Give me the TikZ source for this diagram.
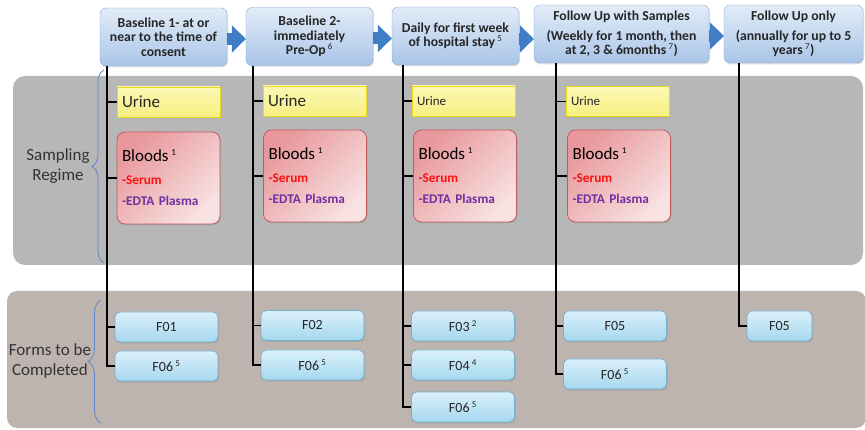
\documentclass[tikz,border=0pt]{standalone}
\usepackage{fontspec}
\setmainfont{Carlito}
\usetikzlibrary{arrows.meta,decorations.pathreplacing,shadows}

\definecolor{hdrtop}{HTML}{E2ECF8}
\definecolor{hdrbot}{HTML}{A9C5E8}
\definecolor{hdrline}{HTML}{8FAAD0}
\definecolor{arrowblue}{HTML}{3F7DC6}
\definecolor{sampbg}{HTML}{B7B7B7}
\definecolor{formbg}{HTML}{BEB4AF}
\definecolor{urinetop}{HTML}{FCF8B4}
\definecolor{urinebot}{HTML}{F6EF82}
\definecolor{urineline}{HTML}{E6D81A}
\definecolor{bloodtop}{HTML}{E8989C}
\definecolor{bloodbot}{HTML}{F8E2E2}
\definecolor{bloodline}{HTML}{C25A5C}
\definecolor{formtop}{HTML}{DAF0FA}
\definecolor{formbot}{HTML}{A6D8EF}
\definecolor{formline}{HTML}{72B0CA}
\definecolor{serumred}{HTML}{FF1010}
\definecolor{edtapurple}{HTML}{7030A0}
\definecolor{bracecol}{HTML}{5A88C8}

\newcommand\supnum[1]{\,\textsuperscript{\mdseries\fontsize{9}{9}\selectfont #1}}

\begin{document}
\begin{tikzpicture}[x=1pt, y=-1pt]
   \tikzset{
     shdw/.style = {drop shadow={opacity=0.25, shadow xshift=1pt,
                    shadow yshift=-1.5pt}},
     hdr/.style = {rounded corners=6pt, draw=hdrline, top color=hdrtop,
                   bottom color=hdrbot, minimum height=58pt, align=center,
                   inner sep=3pt, text=black!85, shdw,
                   font=\bfseries\fontsize{13.7}{14.5}\selectfont},
     urinebox/.style = {draw=urineline, line width=0.9pt, top color=urinetop,
                        bottom color=urinebot, minimum height=30pt,
                        text width=93pt, inner xsep=5pt, align=left,
                        text=black!85, shdw},
     bloodbox/.style = {rounded corners=8pt, draw=bloodline, line width=0.8pt,
                        top color=bloodtop, bottom color=bloodbot,
                        shading angle=45, minimum height=92pt,
                        text width=93pt, inner xsep=5pt, align=left, shdw,
                        font=\bfseries\fontsize{13.3}{21}\selectfont},
     formbox/.style = {rounded corners=5pt, draw=formline, line width=0.8pt,
                       top color=formtop, bottom color=formbot,
                       minimum width=103pt, minimum height=30pt,
                       text=black!85, shdw,
                       font=\fontsize{14}{14}\selectfont},
     blockarrow/.style = {arrowblue, line width=12pt,
                          -{Triangle[length=14pt, width=27pt]}},
     tree/.style = {black, line width=1.6pt},
     brc/.style = {bracecol, line width=0.8pt, decorate},
     side/.style = {align=center, text=black!80,
                    font=\fontsize{17}{20.5}\selectfont},
   }
   \useasboundingbox (0,0) rectangle (865,430);

   % background panels
   \fill[sampbg, rounded corners=12pt] (13,76) rectangle (863,265);
   \fill[formbg, rounded corners=10pt] (7,291) rectangle (866,428);

   % time points
   \node[hdr, minimum width=127pt] (h1) at (163.5,37)
        {Baseline 1- at or\\near to the time of\\consent};
   \node[hdr, minimum width=127pt] (h2) at (309.5,36.5)
        {Baseline 2-\\immediately\\Pre-Op\supnum{6}};
   \node[hdr, minimum width=127pt] (h3) at (455.5,36)
        {Daily for first week\\of hospital stay\supnum{5}};
   \node[hdr, minimum width=175pt] (h4) at (621.5,34)
        {Follow Up with Samples\\[5pt](Weekly for 1 month, then\\at 2, 3 \& 6months\supnum{7})};
   \node[hdr, minimum width=139pt] (h5) at (793.5,34)
        {Follow Up only\\[5pt](annually for up to 5\\years\supnum{7})};

   \draw[blockarrow] ([yshift=-2pt]h1.east) -- ([yshift=-2pt]h1.east -| h2.west);
   \draw[blockarrow] ([yshift=-2pt]h2.east) -- ([yshift=-2pt]h2.east -| h3.west);
   \draw[blockarrow] ([yshift=-3pt]h3.east) -- ([yshift=-3pt]h3.east -| h4.west);
   \draw[blockarrow] ([yshift=-2pt]h4.east) -- ([yshift=-2pt]h4.east -| h5.west);

   % samples
   \node[urinebox, font=\fontsize{17}{17}\selectfont] (u1) at (168.5,102) {Urine};
   \node[urinebox, font=\fontsize{17}{17}\selectfont] (u2) at (314.5,101) {Urine};
   \node[urinebox, font=\fontsize{13}{13}\selectfont] (u3) at (463.5,101) {Urine};
   \node[urinebox, font=\fontsize{13}{13}\selectfont] (u4) at (617.5,101.5) {Urine};

   \node[bloodbox] (b1) at (168.5,178)
        {{\mdseries\fontsize{17}{17}\selectfont Bloods\supnum{1}}\\[2pt]
         {\color{serumred}-Serum}\\{\color{edtapurple}-EDTA Plasma}};
   \node[bloodbox] (b2) at (315,176)
        {{\mdseries\fontsize{17}{17}\selectfont Bloods\supnum{1}}\\[2pt]
         {\color{serumred}-Serum}\\{\color{edtapurple}-EDTA Plasma}};
   \node[bloodbox] (b3) at (465,176)
        {{\mdseries\fontsize{17}{17}\selectfont Bloods\supnum{1}}\\[2pt]
         {\color{serumred}-Serum}\\{\color{edtapurple}-EDTA Plasma}};
   \node[bloodbox] (b4) at (619,176)
        {{\mdseries\fontsize{17}{17}\selectfont Bloods\supnum{1}}\\[2pt]
         {\color{serumred}-Serum}\\{\color{edtapurple}-EDTA Plasma}};

   % forms
   \node[formbox] (f11) at (166.5,327) {F01};
   \node[formbox] (f12) at (166.5,366) {F06\supnum{5}};
   \node[formbox] (f21) at (312.5,325.5) {F02};
   \node[formbox] (f22) at (312.5,365) {F06\supnum{5}};
   \node[formbox] (f31) at (463,326) {F03\supnum{2}};
   \node[formbox] (f32) at (463,365) {F04\supnum{4}};
   \node[formbox] (f33) at (463,407) {F06\supnum{5}};
   \node[formbox] (f41) at (615,326) {F05};
   \node[formbox] (f42) at (615,374) {F06\supnum{5}};
   \node[formbox, minimum width=65pt] (f51) at (779.5,326) {F05};

   % trunk of each column
   \coordinate (l1) at ([xshift=7pt]h1.south west);
   \coordinate (l2) at ([xshift=7pt]h2.south west);
   \coordinate (l3) at ([xshift=11pt]h3.south west);
   \coordinate (l4) at ([xshift=22pt]h4.south west);
   \coordinate (l5) at ([xshift=15pt]h5.south west);

   \draw[tree] (l1) |- (u1.west);
   \draw[tree] (l1) |- (b1.west);
   \draw[tree] (l1) |- (f11.west);
   \draw[tree] (l1) |- (f12.west);

   \draw[tree] (l2) |- (u2.west);
   \draw[tree] (l2) |- (b2.west);
   \draw[tree] (l2) |- (f21.west);
   \draw[tree] (l2) |- (f22.west);

   \draw[tree] (l3) |- (u3.west);
   \draw[tree] (l3) |- (b3.west);
   \draw[tree] (l3) |- (f31.west);
   \draw[tree] (l3) |- (f32.west);
   \draw[tree] (l3) |- (f33.west);

   \draw[tree] (l4) |- (u4.west);
   \draw[tree] (l4) |- (b4.west);
   \draw[tree] (l4) |- (f41.west);
   \draw[tree] (l4) |- (f42.west);

   \draw[tree] (l5) |- (f51.west);

   % row labels
   \draw[brc, decoration={brace, amplitude=12pt}] (104,263) -- (104,70);
   \draw[brc, decoration={brace, amplitude=13pt}] (101,423) -- (101,300);
   \node[side] (samp) at (58,166) {Sampling\\Regime};
   \node[side] (forms) at (50,361) {Forms to be\\Completed};
\end{tikzpicture}
\end{document}
